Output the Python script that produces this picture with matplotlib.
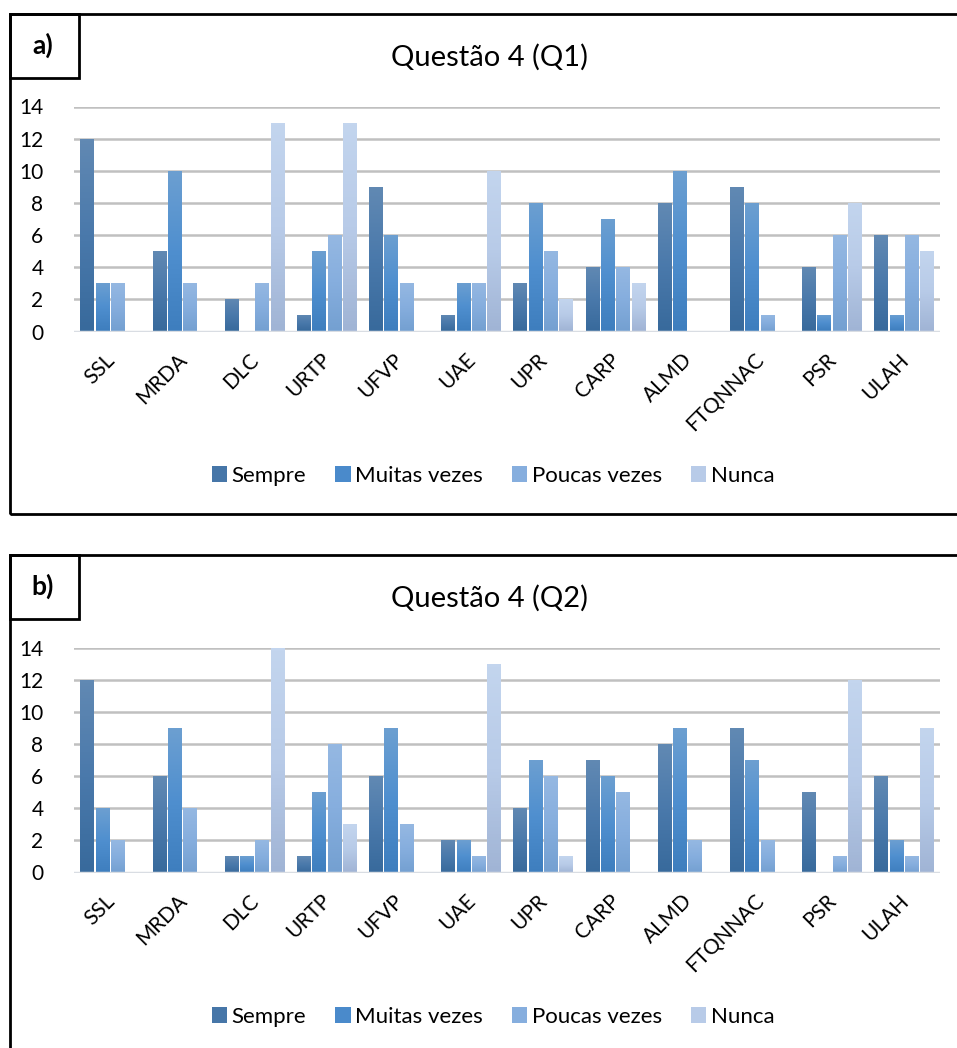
import numpy as np
import matplotlib
matplotlib.use("Agg")
import matplotlib.pyplot as plt
from matplotlib.patches import Rectangle, Patch
from matplotlib.colors import LinearSegmentedColormap

plt.rcParams['font.family'] = ['Lato', 'DejaVu Sans']

categories = ["SSL", "MRDA", "DLC", "URTP", "UFVP", "UAE", "UPR", "CARP",
              "ALMD", "FTQNNAC", "PSR", "ULAH"]
series_names = ["Sempre", "Muitas vezes", "Poucas vezes", "Nunca"]

# Panel a) Questão 4 (Q1)
q1_sempre = [12, 5, 2, 1, 9, 1, 3, 4, 8, 9, 4, 6]
q1_muitas = [3, 10, 0, 5, 6, 3, 8, 7, 10, 8, 1, 1]
q1_poucas = [3, 3, 3, 6, 3, 3, 5, 4, 0, 1, 6, 6]
q1_nunca = [0, 0, 13, 13, 0, 10, 2, 3, 0, 0, 8, 5]

# Panel b) Questão 4 (Q2)
q2_sempre = [12, 6, 1, 1, 6, 2, 4, 7, 8, 9, 5, 6]
q2_muitas = [4, 9, 1, 5, 9, 2, 7, 6, 9, 7, 0, 2]
q2_poucas = [2, 4, 2, 8, 3, 1, 6, 5, 2, 2, 1, 1]
q2_nunca = [0, 0, 14, 3, 0, 13, 1, 0, 0, 0, 12, 9]

yticks = [0, 2, 4, 6, 8, 10, 12, 14]

# gradient stops (top, middle, bottom)
grad = [
    ["#6189b3", "#4a79ab", "#386a9c"],
    ["#6c9fd1", "#4f8fcf", "#3e7ebe"],
    ["#95b8e2", "#86aede", "#74a0d1"],
    ["#c3d5ee", "#b8cbe8", "#a0b4d5"],
]
legend_cols = ["#4676a8", "#4a8acb", "#86aede", "#b8cbe8"]

W, H = 957, 1048
fig = plt.figure(figsize=(W / 100, H / 100), dpi=100)


def fx(px):
    return px / W


def fy(py):
    return 1 - py / H


def panel(top, values, title, label):
    # outer border
    fig.patches.append(Rectangle((fx(10), fy(top + 500)), fx(960) - fx(10), fy(top) - fy(top + 500),
                                 transform=fig.transFigure, fill=False, ec="black", lw=2, zorder=0))
    # label box
    fig.patches.append(Rectangle((fx(10), fy(top + 64)), fx(79) - fx(10), fy(top) - fy(top + 64),
                                 transform=fig.transFigure, fill=False, ec="black", lw=2, zorder=0))
    fig.text(fx(43), fy(top + 31), label, ha="center", va="center", fontsize=19, fontweight="bold")
    fig.text(fx(490), fy(top + 43), title, ha="center", va="center", fontsize=21)

    ax_top = top + 92.5
    ax_bot = top + 317.5
    ax = fig.add_axes([fx(74), fy(ax_bot), fx(940) - fx(74), fy(ax_top) - fy(ax_bot)])
    n = len(categories)
    x = np.arange(n)
    ax.set_xlim(-0.5, n - 0.5)
    ax.set_ylim(0, 14)
    slot = 0.212
    bw = 0.185
    for i, vals in enumerate(values):
        offs = (i - 1.5) * slot
        bars = ax.bar(x + offs, vals, width=bw, color=legend_cols[i], zorder=3, linewidth=0)
        cmap = LinearSegmentedColormap.from_list("g%d" % i, grad[i][::-1])
        for b in bars:
            h = b.get_height()
            if h <= 0:
                continue
            x0 = b.get_x()
            img = np.linspace(0, 1, 64).reshape(-1, 1)
            im = ax.imshow(img, cmap=cmap, origin="lower", aspect="auto",
                           extent=(x0, x0 + b.get_width(), 0, h), zorder=4)
            im.set_clip_path(b)
    ax.set_xlim(-0.5, n - 0.5)
    ax.set_ylim(0, 14)
    ax.set_yticks(yticks)
    ax.set_yticklabels([str(t) for t in yticks], fontsize=15)
    ax.grid(axis="y", color="#c0c0c0", lw=1.8, zorder=0)
    ax.axhline(0, color="#d9dde3", lw=2.5, zorder=5)
    for s in ax.spines.values():
        s.set_visible(False)
    ax.tick_params(axis="y", length=0, pad=22)
    ax.tick_params(axis="x", length=0, pad=13)
    ax.set_xticks(x - 0.08)
    ax.set_xticklabels(categories, rotation=45, ha="right", rotation_mode="anchor", fontsize=15)

    handles = [Patch(facecolor=legend_cols[i], edgecolor="none") for i in range(4)]
    fig.legend(handles, series_names, loc="center", bbox_to_anchor=(fx(493), fy(top + 462)),
               ncol=4, frameon=False, fontsize=16, handlelength=0.7, handleheight=0.7,
               handletextpad=0.2, columnspacing=1.3)
    return ax


panel(14, [q1_sempre, q1_muitas, q1_poucas, q1_nunca], "Questão 4 (Q1)", "a)")
panel(555, [q2_sempre, q2_muitas, q2_poucas, q2_nunca], "Questão 4 (Q2)", "b)")

fig.savefig("out.png", dpi=100, facecolor="white")
